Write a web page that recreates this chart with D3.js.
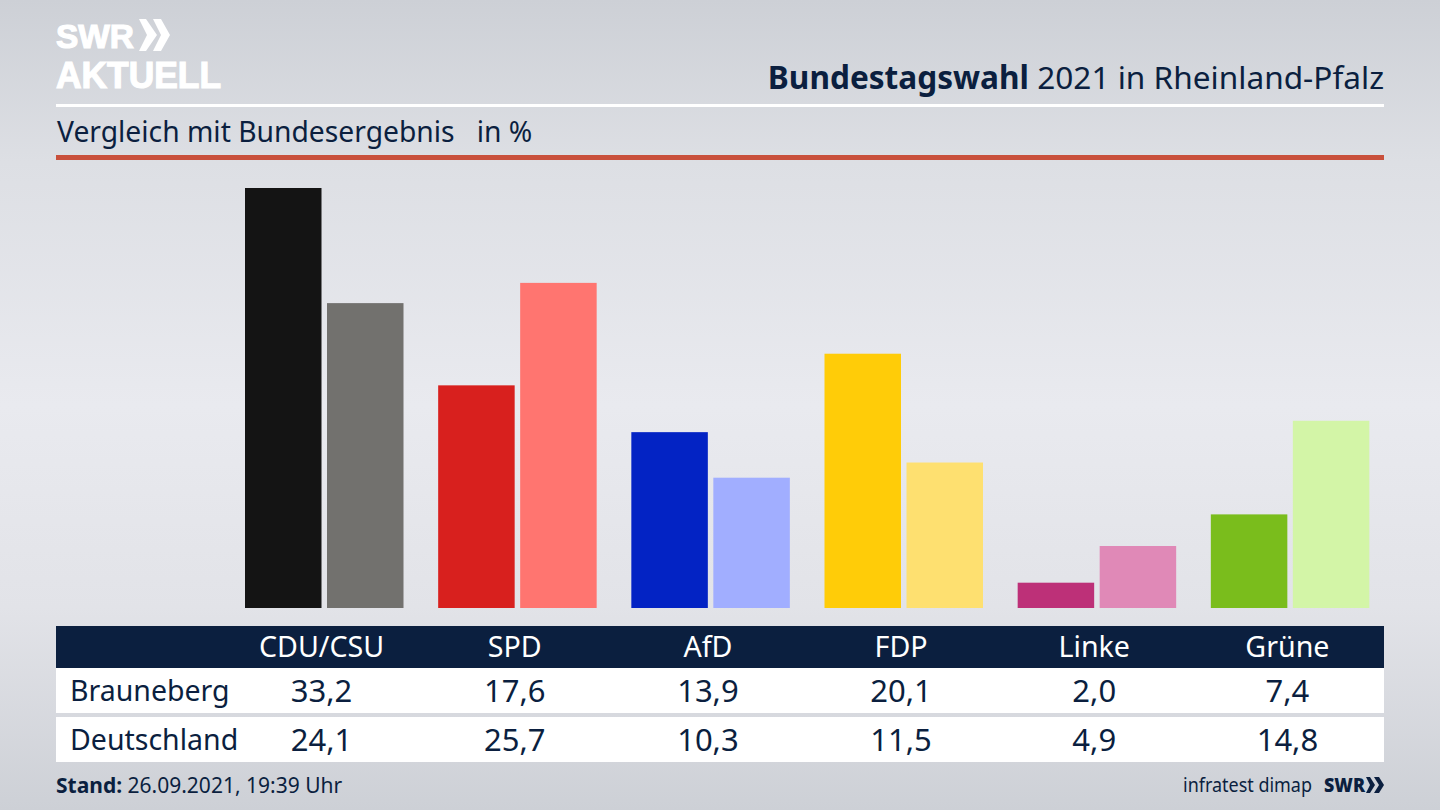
<!DOCTYPE html>
<html><head><meta charset="utf-8">
<script src="https://cdnjs.cloudflare.com/ajax/libs/d3/7.8.5/d3.min.js"></script>
<style>html,body{margin:0;padding:0;overflow:hidden}text{font-family:"Noto Sans",sans-serif}</style>
</head><body><svg id="c" width="1440" height="810"></svg>
<script>
const parties=["CDU/CSU","SPD","AfD","FDP","Linke","Grüne"];
const rowNames=["Brauneberg","Deutschland"];
const brauneberg=[33.2,17.6,13.9,20.1,2.0,7.4];
const deutschland=[24.1,25.7,10.3,11.5,4.9,14.8];
const darkColors=["#141414","#d8201e","#0323c4","#ffcc08","#bd3078","#7abd1c"];
const lightColors=["#72716e","#ff7570","#a1aeff","#fee070","#e089b7","#d3f5a7"];
const title="Bundestagswahl", titleRest=" 2021 in Rheinland-Pfalz";
const subtitle="Vergleich mit Bundesergebnis   in %";
const navy="#0b1f3f";
const svg=d3.select("#c");
const defs=svg.append("defs");
const g=defs.append("linearGradient").attr("id","bg").attr("x1",0).attr("x2",0).attr("y1",0).attr("y2",1);
[[0,"#cdd0d6"],[0.2,"#dddfe4"],[0.5,"#e9eaef"],[0.75,"#e2e3e8"],[1,"#cdd0d6"]].forEach(d=>g.append("stop").attr("offset",d[0]).attr("stop-color",d[1]));
svg.append("rect").attr("width",1440).attr("height",810).attr("fill","url(#bg)");

// logo
const logo=svg.append("g").attr("fill","#fff").attr("stroke","#fff").attr("stroke-width",1.2);
logo.append("text").attr("x",56).attr("y",47.5).attr("font-size",34).attr("font-weight",700).attr("textLength",78).attr("lengthAdjust","spacingAndGlyphs").style("font-family","'Liberation Sans',sans-serif").text("SWR");
logo.append("text").attr("x",56).attr("y",87.5).attr("font-size",36).attr("font-weight",700).attr("textLength",165).attr("lengthAdjust","spacingAndGlyphs").style("font-family","'Liberation Sans',sans-serif").text("AKTUELL");
svg.append("path").attr("fill","#fff").attr("d","M139 19h7l11 16-11 16h-7l8-16zM153 19h8l9 16-9 16h-8l8-16z");

// header
const head=svg.append("text").attr("x",1384).attr("y",89).attr("text-anchor","end").attr("font-size",31.6).attr("fill",navy);
head.append("tspan").attr("font-weight",700).text(title);
head.append("tspan").text(titleRest);
svg.append("rect").attr("x",56).attr("y",104).attr("width",1328).attr("height",3).attr("fill","#fff");
svg.append("text").attr("x",57).attr("y",142).attr("font-size",28.25).attr("fill",navy).style("white-space","pre").attr("xml:space","preserve").text(subtitle);
svg.append("rect").attr("x",56).attr("y",155).attr("width",1328).attr("height",5).attr("fill","#c9503c");

// scales
const x=d3.scaleBand().domain(parties).range([225,1384]).paddingInner(0).paddingOuter(0);
const y=d3.scaleLinear().domain([0,33.2]).range([608,188]);
const barW=76.5, off=82;
const inset=20;
const groups=svg.append("g").selectAll("g").data(parties).join("g");
groups.append("rect").attr("x",d=>x(d)+inset).attr("width",barW)
  .attr("y",(d,i)=>y(brauneberg[i])).attr("height",(d,i)=>y(0)-y(brauneberg[i])).attr("fill",(d,i)=>darkColors[i]);
groups.append("rect").attr("x",d=>x(d)+inset+off).attr("width",barW)
  .attr("y",(d,i)=>y(deutschland[i])).attr("height",(d,i)=>y(0)-y(deutschland[i])).attr("fill",(d,i)=>lightColors[i]);

// table
svg.append("rect").attr("x",56).attr("y",626).attr("width",1328).attr("height",42).attr("fill",navy);
svg.append("rect").attr("x",56).attr("y",668).attr("width",1328).attr("height",45).attr("fill","#fff");
svg.append("rect").attr("x",56).attr("y",717).attr("width",1328).attr("height",45).attr("fill","#fff");
const cx=d=>x(d)+x.bandwidth()/2;
svg.append("g").selectAll("text").data(parties).join("text").attr("x",d=>cx(d)).attr("y",657).attr("text-anchor","middle").attr("font-size",28.6).attr("fill","#fff").text(d=>d);
const fmt=v=>v.toFixed(1).replace(".",",");
[brauneberg,deutschland].forEach((vals,r)=>{
  const by=[701,750][r];
  svg.append("text").attr("x",70).attr("y",by).attr("font-size",28.5).attr("fill",navy).text(rowNames[r]);
  svg.append("g").selectAll("text").data(vals).join("text").attr("x",(d,i)=>cx(parties[i])).attr("y",by+1).attr("text-anchor","middle").attr("font-size",31).attr("fill",navy).text(fmt);
});

// footer
const st=svg.append("text").attr("x",56).attr("y",793).attr("font-size",21).attr("fill",navy);
st.append("tspan").attr("font-weight",700).text("Stand:");
st.append("tspan").text(" 26.09.2021, 19:39 Uhr");
svg.append("text").attr("x",1183).attr("y",792).attr("font-size",20).attr("fill",navy).attr("textLength",129).attr("lengthAdjust","spacingAndGlyphs").text("infratest dimap");
svg.append("text").attr("x",1324).attr("y",792).attr("font-size",20).attr("font-weight",800).attr("fill",navy).style("font-family","'Open Sans',sans-serif").attr("textLength",41).attr("lengthAdjust","spacingAndGlyphs").text("SWR");
svg.append("path").attr("fill",navy).attr("d","M1366 777h4l5 8-5 8h-4l4-8zM1374 777h5l5 8-5 8h-5l5-8z");
</script></body></html>
